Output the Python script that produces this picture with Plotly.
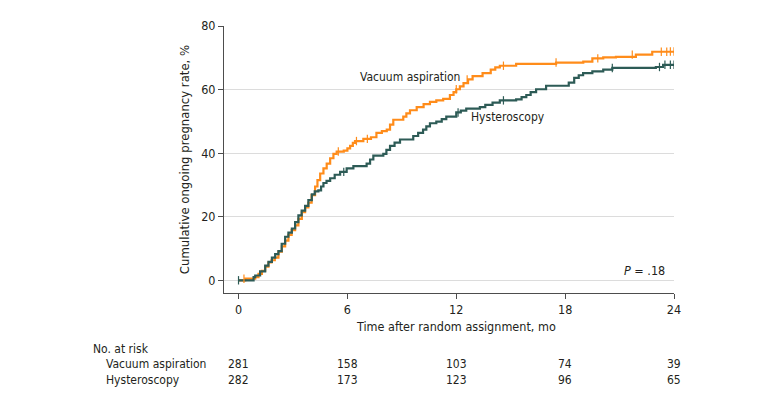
import plotly.graph_objects as go

# Kaplan-Meier style cumulative curves (months, %)
va_time = [0, 0.37, 0.92, 1.1, 1.29, 1.47, 1.65, 1.82, 2.0, 2.2, 2.39, 2.57, 2.75, 2.93, 3.12, 3.3,
           3.49, 3.67, 3.85, 4.03, 4.22, 4.35, 4.5, 4.68, 4.86, 5.05, 5.23, 5.41, 5.8, 6.0, 6.15,
           6.3, 6.42, 6.88, 7.3, 7.6, 7.9, 8.17, 8.35, 8.53, 9.08, 9.25, 9.45, 9.82, 10.2, 10.55,
           10.9, 11.28, 11.65, 11.85, 12.0, 12.2, 12.4, 12.65, 12.9, 13.45, 13.9, 14.15, 14.4,
           15.3, 17.5, 19.0, 19.5, 20.1, 20.8, 21.9, 22.8, 24.0]
va_rate = [0, 0.5, 1.0, 2.0, 3.0, 4.3, 5.6, 6.3, 7.1, 9.0, 10.7, 12.5, 14.3, 15.8, 17.3, 19.3,
           21.4, 22.9, 24.4, 26.8, 29.5, 31.5, 33.6, 35.2, 36.7, 38.4, 39.8, 40.5, 40.8, 41.5, 42.3,
           43.2, 43.8, 44.5, 45.0, 46.4, 46.9, 47.4, 49.0, 50.5, 51.5, 52.5, 53.5, 54.5, 55.4, 56.1,
           56.6, 57.1, 58.3, 59.2, 60.1, 61.0, 62.0, 63.2, 64.2, 65.2, 66.3, 67.0, 67.5,
           68.1, 68.5, 68.8, 69.8, 70.1, 70.3, 71.0, 71.9, 72.0]

hy_time = [0, 0.64, 0.83, 0.92, 1.19, 1.47, 1.65, 1.84, 2.02, 2.2, 2.38, 2.57, 2.75, 2.94, 3.12,
           3.3, 3.48, 3.67, 3.85, 4.04, 4.2, 4.4, 4.55, 4.68, 4.85, 5.05, 5.3, 5.6, 5.96, 6.33,
           7.06, 7.25, 7.43, 7.98, 8.15, 8.35, 8.6, 8.9, 9.63, 9.9, 10.17, 10.35, 10.55, 10.9,
           11.2, 11.45, 12.0, 12.25, 12.55, 13.3, 13.6, 14.0, 14.4, 15.3, 15.6, 15.86, 16.1, 16.4,
           16.95, 18.2, 18.5, 18.75, 18.99, 19.5, 20.1, 20.6, 23.0, 23.4, 24.0]
hy_rate = [0, 0, 1.0, 1.5, 2.8, 4.6, 5.8, 7.1, 8.2, 9.2, 11.5, 13.7, 15.0, 16.3, 18.3,
           20.4, 21.9, 23.4, 25.2, 27.0, 28.0, 28.3, 29.5, 30.6, 31.3, 32.1, 33.2, 34.1, 35.2, 35.9,
           36.7, 38.0, 39.2, 39.8, 41.0, 42.3, 43.3, 44.3, 45.4, 46.4, 47.4, 48.4, 49.4, 49.9,
           50.7, 51.5, 52.8, 53.4, 54.0, 54.5, 55.2, 55.9, 56.6, 56.9, 57.6, 58.3, 59.2, 60.1,
           61.2, 62.2, 63.7, 64.5, 65.2, 65.7, 66.3, 66.8, 67.1, 67.8, 67.8]

# censored observations (tick marks)
va_cens_t = [0.3, 5.5, 6.5, 7.1, 12.0, 12.6, 14.6, 17.5, 19.8, 21.7, 23.3, 23.6, 23.8, 24.0]
va_cens_r = [0.5, 40.5, 43.8, 44.5, 60.1, 63.2, 67.5, 68.5, 69.8, 71.0, 71.9, 71.9, 72.0, 72.0]
hy_cens_t = [0.0, 5.8, 12.1, 14.6, 20.6, 23.2, 23.5, 23.8, 24.0]
hy_cens_r = [0.0, 34.1, 52.8, 56.6, 66.8, 67.1, 67.8, 67.8, 67.8]

risk_times = [0, 6, 12, 18, 24]
risk_va = [281, 158, 103, 74, 39]
risk_hy = [282, 173, 123, 96, 65]

ORANGE = "#FF8C1A"
TEAL = "#2D5B56"
TEXT = "#231F20"
FONT = "Liberation Sans Narrow, DejaVu Sans Condensed, Roboto, sans-serif"

fig = go.Figure()
fig.add_trace(go.Scatter(x=va_time, y=va_rate, mode="lines", line=dict(color=ORANGE, width=2.2, shape="hv")))
fig.add_trace(go.Scatter(x=hy_time, y=hy_rate, mode="lines", line=dict(color=TEAL, width=2.2, shape="hv")))
fig.add_trace(go.Scatter(x=va_cens_t, y=va_cens_r, mode="markers",
                         marker=dict(symbol="line-ns", size=6, line=dict(color=ORANGE, width=1.2))))
fig.add_trace(go.Scatter(x=hy_cens_t, y=hy_cens_r, mode="markers",
                         marker=dict(symbol="line-ns", size=6, line=dict(color=TEAL, width=1.2))))

fig.add_annotation(x=6.6, y=63.8, text="Vacuum aspiration", showarrow=False,
                   xanchor="left", font=dict(size=12, color=TEXT))
fig.add_annotation(x=12.7, y=51.5, text="Hysteroscopy", showarrow=False,
                   xanchor="left", font=dict(size=12, color=TEXT))
fig.add_annotation(x=23.6, y=3, text="<i>P</i> = .18", showarrow=False,
                   xanchor="right", font=dict(size=12.5, color=TEXT))

# x axis title and risk table
fig.add_annotation(x=12, y=-0.124, xref="x", yref="paper", yanchor="middle",
                   text="Time after random assignment, mo", showarrow=False, font=dict(size=12.5, color=TEXT))
fig.add_annotation(x=-0.296, y=-0.211, xref="paper", yref="paper", yanchor="middle", text="No. at risk",
                   showarrow=False, xanchor="left", font=dict(size=12, color=TEXT))
fig.add_annotation(x=-0.267, y=-0.265, xref="paper", yref="paper", yanchor="middle", text="Vacuum aspiration",
                   showarrow=False, xanchor="left", font=dict(size=12, color=TEXT))
fig.add_annotation(x=-0.267, y=-0.324, xref="paper", yref="paper", yanchor="middle", text="Hysteroscopy",
                   showarrow=False, xanchor="left", font=dict(size=12, color=TEXT))
for t, a, b in zip(risk_times, risk_va, risk_hy):
    fig.add_annotation(x=t, y=-0.265, xref="x", yref="paper", yanchor="middle", text=str(a),
                       showarrow=False, font=dict(size=12, color=TEXT))
    fig.add_annotation(x=t, y=-0.324, xref="x", yref="paper", yanchor="middle", text=str(b),
                       showarrow=False, font=dict(size=12, color=TEXT))

# margins allow for the page's 8px body margin
fig.update_layout(
    width=780, height=402,
    margin=dict(l=216, r=114, t=10, b=117),
    paper_bgcolor="white", plot_bgcolor="white",
    showlegend=False,
    font=dict(family=FONT, size=12, color=TEXT),
    xaxis=dict(range=[-0.8, 24], tickvals=risk_times, showgrid=False, zeroline=False,
               showline=True, linecolor="#4D4D4D", linewidth=1,
               ticks="outside", ticklen=5, tickcolor="#4D4D4D", tickfont=dict(size=12.5)),
    yaxis=dict(range=[-4, 80], tickvals=[0, 20, 40, 60, 80], showgrid=True, gridcolor="#DCDCDC",
               gridwidth=1, zeroline=False, showline=True, linecolor="#4D4D4D", linewidth=1,
               ticks="outside", ticklen=5, tickcolor="#4D4D4D", tickfont=dict(size=12.5),
               title=dict(text="Cumulative ongoing pregnancy rate, %", font=dict(size=13), standoff=8)),
)

fig.write_html("out.html")
